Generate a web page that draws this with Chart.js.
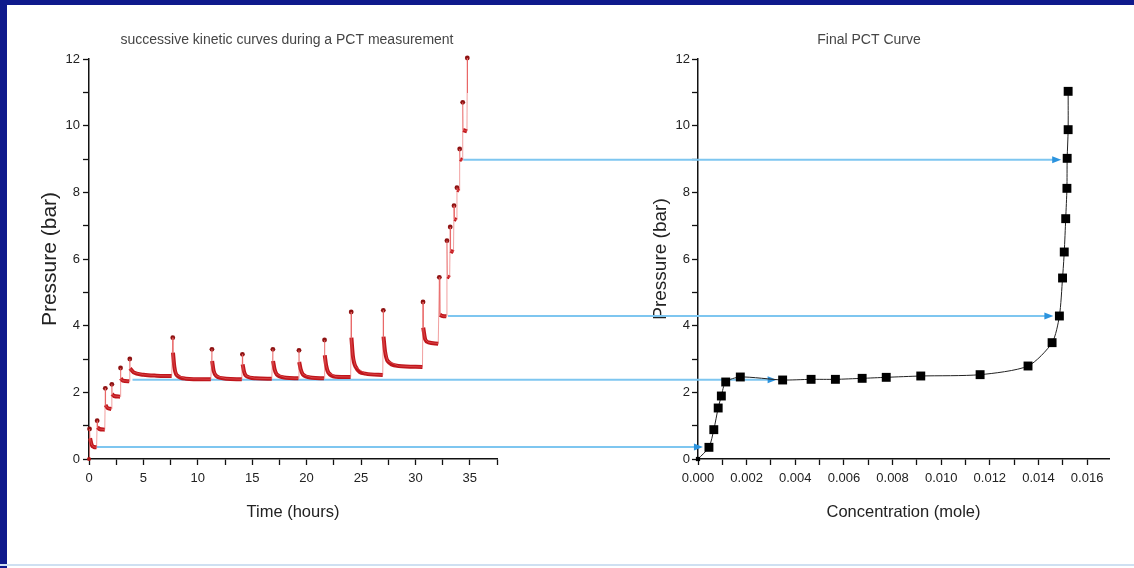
<!DOCTYPE html>
<html>
<head>
<meta charset="utf-8">
<script src="https://cdn.jsdelivr.net/npm/chart.js@4.4.0/dist/chart.umd.min.js"></script>
<style>
  html, body { margin: 0; padding: 0; background: #fff; }
  body { width: 1134px; height: 568px; position: relative; overflow: hidden; }
  #frameTop { position: absolute; left: 0; top: 0; width: 1134px; height: 5px; background: #0f1a8c; }
  #frameLeft { position: absolute; left: 0; top: 0; width: 7px; height: 568px; background: #0f1a8c; }
  #frameBottom { position: absolute; left: 0; top: 564px; width: 1134px; height: 2px; background: #cfe0f2; }
  #kinetic { position: absolute; left: 0; top: 0; }
  #pct { position: absolute; left: 600px; top: 0; }
</style>
</head>
<body>
<div id="frameTop"></div>
<div id="frameLeft"></div>
<div id="frameBottom"></div>
<canvas id="kinetic" width="600" height="568"></canvas>
<canvas id="pct" width="534" height="568"></canvas>
<script>
// LEFT PANEL DATA - successive kinetic curves (time in hours, pressure in bar)
var stepTimes = [0.05, 0.75, 1.5, 2.1, 2.9, 3.75, 7.7, 11.3, 14.1, 16.9, 19.3, 21.65, 24.1, 27.05, 30.7,
    32.2, 32.9, 33.2, 33.55, 33.82, 34.07, 34.35, 34.77];
var spikePressures = [0.9, 1.15, 2.12, 2.24, 2.73, 3.0, 3.64, 3.29, 3.14, 3.29, 3.26, 3.57, 4.41, 4.46, 4.71,
    5.45, 6.55, 6.96, 7.6, 8.14, 9.3, 10.7, 12.03];
var decayTimes = [
    [0.1, 0.25, 0.45, 0.7],
    [0.78, 0.95, 1.45],
    [1.52, 1.7, 2.05],
    [2.12, 2.3, 2.85],
    [2.92, 3.1, 3.7],
    [3.77, 4.1, 5.0, 6.2, 7.6],
    [7.72, 7.85, 8.05, 8.9, 11.2],
    [11.32, 11.45, 11.7, 12.6, 14.05],
    [14.12, 14.25, 14.45, 15.3, 16.8],
    [16.92, 17.05, 17.25, 18.1, 19.25],
    [19.32, 19.45, 19.65, 20.5, 21.6],
    [21.67, 21.8, 22.0, 22.7, 24.05],
    [24.12, 24.25, 24.5, 25.4, 27.0],
    [27.07, 27.2, 27.45, 28.45, 30.65],
    [30.72, 30.9, 31.2, 32.1],
    [32.25, 32.5, 32.85],
    [32.95, 33.15],
    [33.23, 33.5],
    [33.58, 33.78],
    [33.85, 34.03],
    [34.1, 34.3],
    [34.38, 34.74],
    [34.79]
];
var decayPressures = [
    [0.62, 0.42, 0.36, 0.35],
    [0.95, 0.9, 0.88],
    [1.62, 1.53, 1.5],
    [1.95, 1.89, 1.87],
    [2.42, 2.35, 2.33],
    [2.72, 2.6, 2.53, 2.5, 2.49],
    [3.19, 2.75, 2.52, 2.41, 2.39],
    [2.94, 2.65, 2.49, 2.41, 2.39],
    [2.84, 2.62, 2.49, 2.42, 2.41],
    [2.94, 2.7, 2.54, 2.44, 2.42],
    [2.91, 2.7, 2.54, 2.44, 2.42],
    [3.11, 2.8, 2.59, 2.47, 2.46],
    [3.64, 3.1, 2.77, 2.56, 2.52],
    [3.67, 3.25, 2.94, 2.79, 2.76],
    [3.94, 3.59, 3.5, 3.46],
    [4.33, 4.29, 4.28],
    [5.48, 5.44],
    [6.25, 6.2],
    [7.2, 7.17],
    [8.08, 8.05],
    [9.0, 8.96],
    [9.87, 9.83],
    [10.98]
];

// RIGHT PANEL DATA - final PCT curve
var concentrations = [0, 0.00045, 0.00065, 0.00083, 0.00096, 0.00114, 0.00174, 0.00348, 0.00465, 0.00565,
    0.00675, 0.00774, 0.00916, 0.0116, 0.01357, 0.01456, 0.01486, 0.01499, 0.01506, 0.01512, 0.01517,
    0.01518, 0.01522, 0.01522];
var pctPressures = [0, 0.35, 0.88, 1.53, 1.89, 2.31, 2.46, 2.37, 2.39, 2.39, 2.42, 2.45, 2.49, 2.53, 2.79,
    3.49, 4.29, 5.43, 6.21, 7.21, 8.12, 9.02, 9.88, 11.03];

// ARROWS linking kinetic plateaus to PCT points
var arrowPressures = [0.36, 2.38, 4.29, 8.98];
var arrowStartTimes = [0.7, 4.0, 33.0, 34.4];
var arrowEndConc = [0.00045, 0.00348, 0.01486, 0.01518];

var plainFont = "'Liberation Sans', Arial, sans-serif";
var lineBlue = '#7ec6f0';
var headBlue = '#2b93de';

var tracePoints = [{x: 0, y: 0}];
var curvePoints = [];
var spikePoints = [];
for (var i = 0; i < stepTimes.length; i++) {
    spikePoints.push({x: stepTimes[i], y: spikePressures[i]});
    tracePoints.push({x: stepTimes[i], y: spikePressures[i]});
    for (var j = 0; j < decayTimes[i].length; j++) {
        var p = {x: decayTimes[i][j], y: decayPressures[i][j]};
        tracePoints.push(p);
        curvePoints.push(p);
    }
    curvePoints.push({x: decayTimes[i][decayTimes[i].length - 1], y: null});
}

var pctPoints = concentrations.map(function (c, k) {
    return {x: c, y: pctPressures[k]};
});

// text above each panel
var panelTitle = {
    id: 'panelTitle',
    afterDraw: function (chart, args, opts) {
        var ctx = chart.ctx;
        ctx.save();
        ctx.font = '14px ' + plainFont;
        ctx.fillStyle = '#454545';
        ctx.textAlign = 'center';
        ctx.textBaseline = 'middle';
        ctx.fillText(opts.text, opts.x, opts.y);
        ctx.restore();
    }
};

var arrowsLeft = {
    id: 'arrowsLeft',
    beforeDatasetsDraw: function (chart) {
        var ctx = chart.ctx, xs = chart.scales.x, ys = chart.scales.y;
        ctx.save();
        ctx.strokeStyle = lineBlue;
        ctx.lineWidth = 2;
        arrowPressures.forEach(function (pr, k) {
            var y = ys.getPixelForValue(pr);
            ctx.beginPath();
            ctx.moveTo(xs.getPixelForValue(arrowStartTimes[k]), y);
            ctx.lineTo(chart.width, y);
            ctx.stroke();
        });
        ctx.restore();
    }
};

var arrowsRight = {
    id: 'arrowsRight',
    beforeDatasetsDraw: function (chart) {
        var ctx = chart.ctx, xs = chart.scales.x, ys = chart.scales.y;
        ctx.save();
        arrowPressures.forEach(function (pr, k) {
            var y = ys.getPixelForValue(pr);
            var tip = xs.getPixelForValue(arrowEndConc[k]) - 6;
            ctx.strokeStyle = lineBlue;
            ctx.lineWidth = 2;
            ctx.beginPath();
            ctx.moveTo(0, y);
            ctx.lineTo(tip - 6, y);
            ctx.stroke();
            ctx.fillStyle = headBlue;
            ctx.beginPath();
            ctx.moveTo(tip, y);
            ctx.lineTo(tip - 9, y - 3.5);
            ctx.lineTo(tip - 9, y + 3.5);
            ctx.closePath();
            ctx.fill();
        });
        ctx.restore();
    }
};

function axisBase() {
    return {
        type: 'linear',
        grid: {drawOnChartArea: false, tickLength: 6, color: '#111', tickWidth: 1.3},
        border: {color: '#111', width: 1.5}
    };
}

var tickFont = {family: plainFont, size: 13};

// KINETIC CHART
var kx = axisBase();
kx.min = 0; kx.max = 37.5;
kx.ticks = {stepSize: 2.5, autoSkip: false, maxRotation: 0, padding: 6, font: tickFont, color: '#222',
    callback: function (v) { return v % 5 === 0 ? v : ''; }};
kx.title = {display: true, text: 'Time (hours)', font: {family: plainFont, size: 16.5}, color: '#222',
    padding: {top: 0, bottom: 46}};
kx.afterFit = function (s) { s.height = 109; };

var ky = axisBase();
ky.min = 0; ky.max = 12;
ky.ticks = {stepSize: 1, autoSkip: false, padding: 3, font: tickFont, color: '#222',
    callback: function (v) { return v % 2 === 0 ? v : ''; }};
ky.title = {display: true, text: 'Pressure (bar)', font: {family: plainFont, size: 21}, color: '#222',
    padding: {top: 37.4, bottom: 0}};
ky.afterFit = function (s) { s.width = 89; };

new Chart(document.getElementById('kinetic').getContext('2d'), {
    type: 'scatter',
    data: {
        datasets: [
            {data: tracePoints, showLine: true, borderColor: 'rgba(232,96,96,0.6)', borderWidth: 1,
                pointRadius: function (c) { return c.dataIndex === 0 ? 2 : 0; },
                pointBackgroundColor: '#b01414', pointBorderWidth: 0, clip: false},
            {data: curvePoints, showLine: true, spanGaps: false, borderColor: '#c0161c', borderWidth: 4,
                cubicInterpolationMode: 'monotone', pointRadius: 0, clip: false},
            {data: spikePoints, showLine: false, pointRadius: 2.4, pointBackgroundColor: '#8e1212',
                pointBorderWidth: 0, clip: false}
        ]
    },
    options: {
        responsive: false,
        animation: false,
        layout: {padding: {top: 59, right: 103, bottom: 0, left: 0}},
        scales: {x: kx, y: ky},
        plugins: {
            legend: {display: false},
            tooltip: {enabled: false},
            panelTitle: {text: 'successive kinetic curves during a PCT measurement', x: 287, y: 40}
        }
    },
    plugins: [arrowsLeft, panelTitle]
});

// PCT CHART
var px = axisBase();
px.min = 0; px.max = 0.0169;
px.ticks = {stepSize: 0.001, includeBounds: false, autoSkip: false, maxRotation: 0, padding: 6, font: tickFont,
    color: '#222', maxTicksLimit: 100,
    callback: function (v) { return Math.round(v * 1000) % 2 === 0 ? v.toFixed(3) : ''; }};
px.title = {display: true, text: 'Concentration (mole)', font: {family: plainFont, size: 16.5}, color: '#222',
    padding: {top: 0, bottom: 46}};
px.afterFit = function (s) { s.height = 109; };

var py = axisBase();
py.min = 0; py.max = 12;
py.ticks = {stepSize: 1, autoSkip: false, padding: 2, font: tickFont, color: '#222',
    callback: function (v) { return v % 2 === 0 ? v : ''; }};
py.title = {display: true, text: 'Pressure (bar)', font: {family: plainFont, size: 19}, color: '#222',
    padding: {top: 49.6, bottom: 0}};
py.afterFit = function (s) { s.width = 98; };

new Chart(document.getElementById('pct').getContext('2d'), {
    type: 'scatter',
    data: {
        datasets: [{
            data: pctPoints, showLine: true, borderColor: '#222', borderWidth: 1, tension: 0.25,
            pointStyle: 'rect',
            pointRadius: function (c) { return c.dataIndex === 0 ? 3 : 6.3; },
            pointBackgroundColor: '#000', pointBorderColor: '#000', pointBorderWidth: 0, clip: false
        }]
    },
    options: {
        responsive: false,
        animation: false,
        layout: {padding: {top: 59, right: 25, bottom: 0, left: 0}},
        scales: {x: px, y: py},
        plugins: {
            legend: {display: false},
            tooltip: {enabled: false},
            panelTitle: {text: 'Final PCT Curve', x: 269, y: 40}
        }
    },
    plugins: [arrowsRight, panelTitle]
});
</script>
</body>
</html>
